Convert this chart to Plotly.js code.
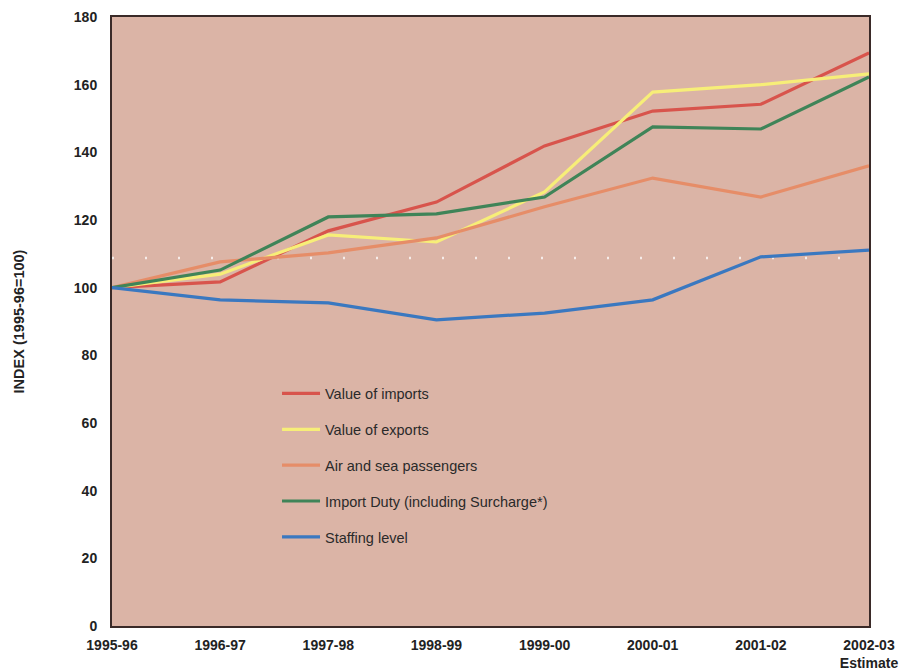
<!DOCTYPE html>
<html>
<head>
<meta charset="utf-8">
<script src="https://cdn.plot.ly/plotly-3.0.1.min.js"></script>
<style>html,body{margin:0;padding:0;background:#fff;}#chart{width:902px;height:672px;}</style>
</head>
<body>
<div id="chart"></div>
<script>
const years = ["1995-96","1996-97","1997-98","1998-99","1999-00","2000-01","2001-02","2002-03<br>Estimate"];
const imports = [100, 101.7, 116.8, 125.3, 141.9, 152.2, 154.2, 169.4];
const exports_ = [100, 104, 115.6, 113.5, 128.3, 157.8, 160, 163.2];
const passengers = [100, 107.6, 110.3, 114.7, 123.9, 132.4, 126.8, 136];
const importDuty = [100, 105.2, 120.9, 121.8, 126.8, 147.5, 146.9, 162.3];
const staffing = [100, 96.4, 95.5, 90.5, 92.5, 96.4, 109.1, 111.1];
const refLevel = [108.8];
const yTicks = [0,20,40,60,80,100,120,140,160,180];

const xs = years.map((_, i) => i);
function tr(name, y, color, g) {
  return {x: xs, y: y, name: name, type: 'scatter', mode: 'lines', legendgroup: g,
          line: {color: color, width: 3.2}, hoverinfo: 'skip'};
}
const data = [
  tr('Value of imports', imports, '#d8544c', 'a'),
  tr('Value of exports', exports_, '#f7ee78', 'b'),
  tr('Air and sea passengers', passengers, '#e68d68', 'c'),
  tr('Import Duty (including Surcharge*)', importDuty, '#3f8458', 'd'),
  tr('Staffing level', staffing, '#3a78c0', 'e')
];
const layout = {
  width: 902, height: 672,
  margin: {l: 112, r: 33, t: 17, b: 46},
  paper_bgcolor: '#ffffff',
  plot_bgcolor: '#dbb4a6',
  font: {family: 'Liberation Sans, Arial, sans-serif', color: '#222'},
  showlegend: true,
  legend: {x: 0.218, y: 0.408, xanchor: 'left', yanchor: 'top',
           bgcolor: 'rgba(0,0,0,0)', tracegroupgap: 14,
           font: {size: 14.5, color: '#2a2a2a'}, itemwidth: 38},
  xaxis: {
    range: [0, 7], tickmode: 'array', tickvals: xs, ticktext: years.map(t => '<b>' + t + '</b>'),
    showgrid: false, zeroline: false, showline: true, linecolor: '#3a2a28', linewidth: 2,
    mirror: true, ticks: '', tickfont: {size: 14, color: '#222'}, ticklabelstandoff: 5, fixedrange: true
  },
  yaxis: {
    range: [0, 180], tickmode: 'array', tickvals: yTicks, ticktext: yTicks.map(t => '<b>' + t + '</b>'),
    showgrid: false, zeroline: false, showline: true, linecolor: '#3a2a28', linewidth: 2,
    mirror: true, ticks: '', tickfont: {size: 14, color: '#222'}, ticklabelstandoff: 10,
    title: {text: '<b>INDEX (1995-96=100)</b>', font: {size: 14.5, color: '#222'}, standoff: 46},
    fixedrange: true
  },
  shapes: [{type: 'line', xref: 'paper', x0: 0, x1: 1, yref: 'y', y0: refLevel[0], y1: refLevel[0],
            line: {color: 'rgba(255,255,255,0.75)', width: 2.5, dash: '2px,31px'}, layer: 'below'}]
};
Plotly.newPlot('chart', data, layout, {displayModeBar: false, staticPlot: true});
</script>
</body>
</html>
